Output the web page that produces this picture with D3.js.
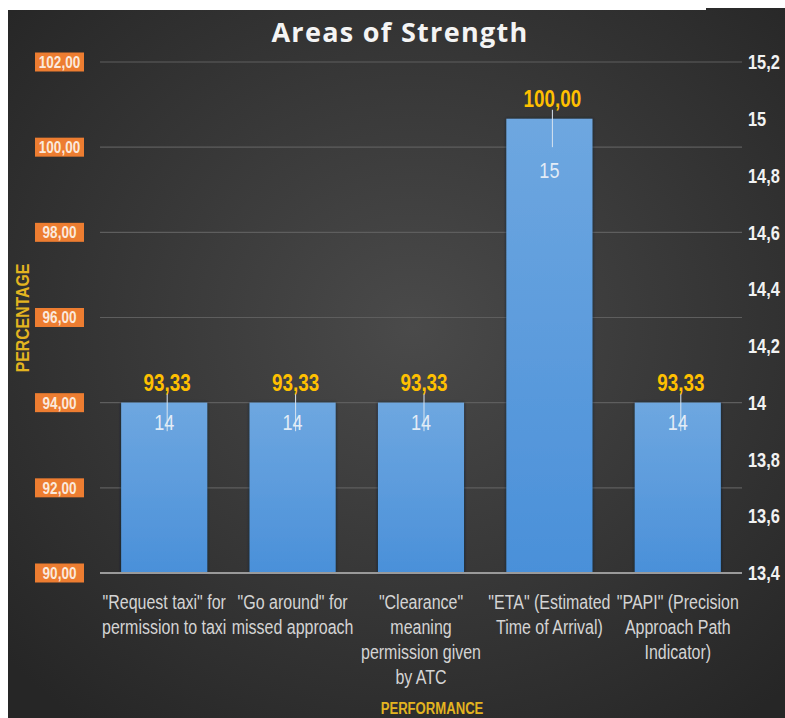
<!DOCTYPE html>
<html>
<head>
<meta charset="utf-8">
<script src="https://cdn.jsdelivr.net/npm/d3@7/dist/d3.min.js"></script>
<style>
  html, body { margin: 0; padding: 0; background: #ffffff; }
  svg { display: block; }
</style>
</head>
<body>
<svg id="chart" width="785" height="718"></svg>
<script>
// Phraseology items and scores
const categories = [
  "\"Request taxi\" for|permission to taxi",
  "\"Go around\" for|missed approach",
  "\"Clearance\"|meaning|permission given|by ATC",
  "\"ETA\" (Estimated|Time of Arrival)",
  "\"PAPI\" (Precision|Approach Path|Indicator)"
];
const counts = [14, 14, 14, 15, 14];               // correct answers (right axis)
const percentages = [93.33, 93.33, 93.33, 100.00, 93.33]; // share correct (left axis)

const leftTicks = [90, 92, 94, 96, 98, 100, 102];
const rightTicks = [13.4, 13.6, 13.8, 14, 14.2, 14.4, 14.6, 14.8, 15, 15.2];

const title = "Areas of Strength";
const yTitle = "PERCENTAGE";
const xTitle = "PERFORMANCE";

const svg = d3.select("#chart");
const sans = "'Liberation Sans', Arial, sans-serif";
const NARROW = 0.82; // horizontal squeeze giving a narrow face

// Text in a narrow face: a group placed at (x, y) and squeezed horizontally
function narrowText(sel, x, y) {
  return sel.append("g")
    .attr("transform", `translate(${x},${y}) scale(${NARROW},1)`)
    .append("text");
}

// Panel background: dark radial gradient
const defs = svg.append("defs");
const bg = defs.append("radialGradient").attr("id", "bg")
  .attr("cx", "52%").attr("cy", "45%").attr("r", "70%");
bg.append("stop").attr("offset", "0%").attr("stop-color", "#4a4a4a");
bg.append("stop").attr("offset", "100%").attr("stop-color", "#262626");

const barGrad = defs.append("linearGradient").attr("id", "barGrad")
  .attr("x1", 0).attr("y1", 0).attr("x2", 0).attr("y2", 1);
barGrad.append("stop").attr("offset", "0%").attr("stop-color", "#6ea7e0");
barGrad.append("stop").attr("offset", "100%").attr("stop-color", "#4a90d9");

const shadow = defs.append("filter").attr("id", "barShadow")
  .attr("x", "-20%").attr("y", "-5%").attr("width", "140%").attr("height", "110%");
shadow.append("feDropShadow").attr("dx", 0).attr("dy", 0).attr("stdDeviation", 1.5)
  .attr("flood-color", "#0a1a30").attr("flood-opacity", 0.9);

svg.append("path")
  .attr("d", "M8,10 H706 V8 H785 V718 H8 Z")
  .attr("fill", "url(#bg)");

// Scales
const plotTop = 62, plotBottom = 573, plotLeft = 100, plotRight = 742;
const x = d3.scaleBand().domain(categories)
  .range([plotLeft, plotRight]).paddingInner(0.33).paddingOuter(0.165);
const yL = d3.scaleLinear().domain([90, 102]).range([plotBottom, plotTop]);
const yR = d3.scaleLinear().domain([13.4, 15.2]).range([plotBottom, plotTop]);

const fmtLeft = v => d3.format(".2f")(v).replace(".", ",");
const fmtRight = v => d3.format("~r")(v).replace(".", ",");

// Gridlines
svg.append("g").selectAll("line").data(leftTicks.slice(1)).join("line")
  .attr("x1", plotLeft).attr("x2", plotRight)
  .attr("y1", d => yL(d)).attr("y2", d => yL(d))
  .attr("stroke", "#5e5e5e").attr("stroke-width", 1.2);

// Left axis: orange tag labels
const leftAxis = svg.append("g").attr("class", "left-axis");
leftTicks.forEach(v => {
  leftAxis.append("rect").attr("x", 35).attr("y", yL(v) - 9.5)
    .attr("width", 49).attr("height", 19).attr("fill", "#ed7d31");
  narrowText(leftAxis, 59.5, yL(v))
    .attr("text-anchor", "middle").attr("dy", "0.36em")
    .attr("font-family", sans).attr("font-weight", "bold").attr("font-size", 16.5)
    .attr("fill", "#fbe9dc").text(fmtLeft(v));
});

// Right axis labels
const rightAxis = svg.append("g").attr("class", "right-axis");
rightTicks.forEach(v => {
  narrowText(rightAxis, 748, yR(v))
    .attr("dy", "0.36em")
    .attr("font-family", sans).attr("font-weight", "bold").attr("font-size", 20)
    .attr("fill", "#f2f2f2").text(fmtRight(v));
});

// Bars (counts on the secondary axis)
const rows = categories.map((c, i) => ({ cat: c, count: counts[i], pct: percentages[i] }));
svg.append("g").selectAll("rect").data(rows).join("rect")
  .attr("x", d => x(d.cat)).attr("width", x.bandwidth())
  .attr("y", d => yR(d.count)).attr("height", d => plotBottom - yR(d.count))
  .attr("fill", "url(#barGrad)").attr("filter", "url(#barShadow)");

// Category axis baseline
svg.append("line").attr("x1", plotLeft).attr("x2", plotRight)
  .attr("y1", plotBottom).attr("y2", plotBottom)
  .attr("stroke", "#9a9a9a").attr("stroke-width", 2);

// Percentage labels with leader lines to each percentage value, counts inside bars
const maxCount = d3.max(counts);
const labels = svg.append("g").attr("class", "labels");
rows.forEach(d => {
  const cx = x(d.cat) + x.bandwidth() / 2;
  const top = yR(d.count);
  labels.append("line")
    .attr("x1", cx + 3).attr("x2", cx + 3)
    .attr("y1", top - 9).attr("y2", yL(d.pct))
    .attr("stroke", "#d8e4f0").attr("stroke-width", 1);
  narrowText(labels, cx + 3, top - 12)
    .attr("text-anchor", "middle")
    .attr("font-family", sans).attr("font-weight", "bold").attr("font-size", 23)
    .attr("fill", "#ffc000").text(fmtLeft(d.pct));
  narrowText(labels, cx, top + (d.count === maxCount ? 51 : 19))
    .attr("text-anchor", "middle").attr("dy", "0.36em")
    .attr("font-family", sans).attr("font-size", 22)
    .attr("fill", "#e3ecf6").text(d.count);
});

// Category labels (multi-line)
const catAxis = svg.append("g").attr("class", "cat-axis");
categories.forEach(c => {
  const t = narrowText(catAxis, x(c) + x.bandwidth() / 2, 609)
    .attr("text-anchor", "middle")
    .attr("font-family", sans).attr("font-size", 19.5).attr("fill", "#d4d4d4");
  c.split("|").forEach((line, i) => {
    t.append("tspan").attr("x", 0).attr("y", i * 25).text(line);
  });
});

// Titles
svg.append("text").attr("x", 400).attr("y", 42).attr("text-anchor", "middle")
  .attr("font-family", "'Open Sans', sans-serif").attr("font-weight", "bold")
  .attr("font-size", 27).attr("letter-spacing", 1.3).attr("fill", "#f4f4f4").text(title);

svg.append("g").attr("transform", "translate(29,318) rotate(-90) scale(0.88,1)")
  .append("text").attr("text-anchor", "middle")
  .attr("font-family", sans).attr("font-weight", "bold").attr("font-size", 18)
  .attr("fill", "#e3b420").text(yTitle);

narrowText(svg, 432, 714)
  .attr("text-anchor", "middle")
  .attr("font-family", sans).attr("font-weight", "bold").attr("font-size", 16)
  .attr("fill", "#e3b420").text(xTitle);
</script>
</body>
</html>
